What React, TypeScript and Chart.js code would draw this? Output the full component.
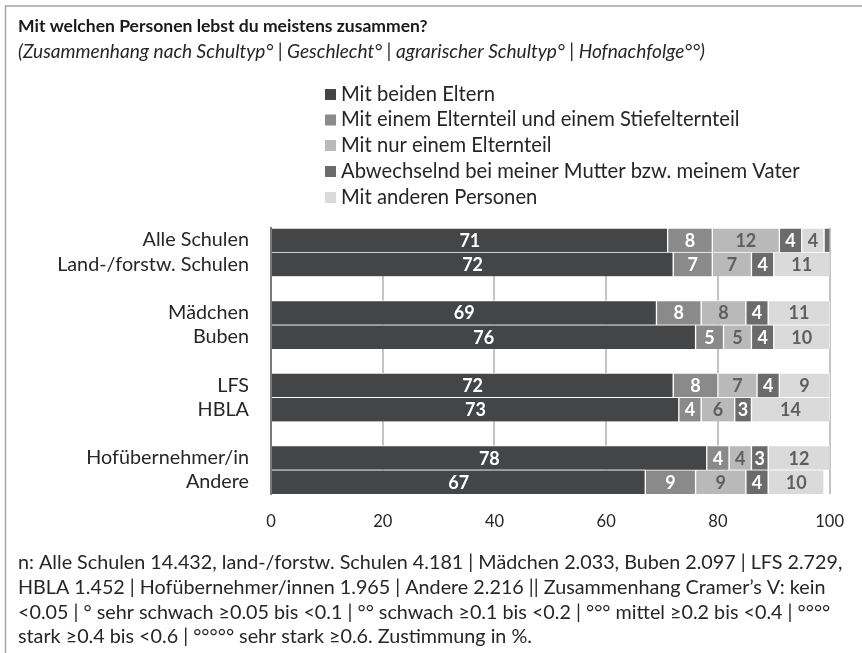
import React, { useEffect, useRef } from 'react';
import { Chart, registerables } from 'chart.js';

Chart.register(...registerables);

const FONT = 'Lato, "Noto Sans", sans-serif';

const categories = [
  'Alle Schulen',
  'Land-/forstw. Schulen',
  '',
  'Mädchen',
  'Buben',
  '',
  'LFS',
  'HBLA',
  '',
  'Hofübernehmer/in',
  'Andere',
];

const seriesNames = [
  'Mit beiden Eltern',
  'Mit einem Elternteil und einem Stiefelternteil',
  'Mit nur einem Elternteil',
  'Abwechselnd bei meiner Mutter bzw. meinem Vater',
  'Mit anderen Personen',
];

const mitBeidenEltern = [71, 72, null, 69, 76, null, 72, 73, null, 78, 67];
const mitStiefelternteil = [8, 7, null, 8, 5, null, 8, 4, null, 4, 9];
const mitNurEinemElternteil = [12, 7, null, 8, 5, null, 7, 6, null, 4, 9];
const abwechselnd = [4, 4, null, 4, 4, null, 4, 3, null, 3, 4];
const mitAnderenPersonen = [4, 11, null, 11, 10, null, 9, 14, null, 12, 10];
const restOhneLabel = [1, null, null, null, null, null, null, null, null, null, null];

const xTickValues = [0, 20, 40, 60, 80, 100];

const seriesColors = ['#444547', '#8a8a8a', '#b9b9b9', '#6b6b6b', '#dadada'];
const labelColors = ['#ffffff', '#ffffff', '#5f5f5f', '#ffffff', '#5f5f5f'];
const restColor = '#6b6b6b';

const titleText = 'Mit welchen Personen lebst du meistens zusammen?';
const subtitleText =
  '(Zusammenhang nach Schultyp° | Geschlecht° | agrarischer Schultyp° | Hofnachfolge°°)';
const footnoteLines = [
  'n: Alle Schulen 14.432, land-/forstw. Schulen 4.181 | Mädchen 2.033, Buben 2.097 | LFS 2.729,',
  'HBLA 1.452 | Hofübernehmer/innen 1.965 | Andere 2.216 || Zusammenhang Cramer’s V: kein',
  '<0.05 | ° sehr schwach ≥0.05 bis <0.1 | °° schwach ≥0.1 bis <0.2 | °°° mittel ≥0.2 bis <0.4 | °°°°',
  'stark ≥0.4 bis <0.6 | °°°°° sehr stark ≥0.6. Zustimmung in %.',
];

function fitSize(text: string, style: string, weight: string, target: number): number {
  const c = document.createElement('canvas').getContext('2d')!;
  c.font = `${style} ${weight} 100px ${FONT}`;
  const w = c.measureText(text).width;
  return (100 * target) / w;
}

export default function App() {
  const ref = useRef<HTMLCanvasElement | null>(null);

  useEffect(() => {
    const canvas = ref.current;
    if (!canvas) return;

    const TEXT_X = 18;
    const titleSize = fitSize(titleText, 'normal', 'bold', 410);
    const subSize = fitSize(subtitleText, 'italic', 'normal', 687);
    const legendSize = fitSize(seriesNames[3], 'normal', 'normal', 459);
    const ySize = fitSize('Land-/forstw. Schulen', 'normal', 'normal', 192);
    const footSize = fitSize(footnoteLines[0], 'normal', 'normal', 843 - TEXT_X);

    const decor = {
      id: 'decor',
      afterDraw(chart: any) {
        const ctx = chart.ctx as CanvasRenderingContext2D;
        ctx.save();
        // frame
        ctx.strokeStyle = '#a6a6a6';
        ctx.lineWidth = 1.5;
        ctx.beginPath();
        ctx.moveTo(5.5, 653);
        ctx.lineTo(5.5, 6);
        ctx.lineTo(862, 6);
        ctx.stroke();

        ctx.textAlign = 'left';
        ctx.textBaseline = 'middle';
        // title
        ctx.fillStyle = '#1a1a1a';
        ctx.font = `normal bold ${titleSize}px ${FONT}`;
        ctx.fillText(titleText, TEXT_X, 26);
        // subtitle
        ctx.fillStyle = '#262626';
        ctx.font = `italic normal ${subSize}px ${FONT}`;
        ctx.fillText(subtitleText, TEXT_X, 52);

        // legend
        ctx.font = `normal normal ${legendSize}px ${FONT}`;
        const rowY = [94, 119.5, 145, 171, 197];
        seriesNames.forEach((name, i) => {
          const y = rowY[i];
          ctx.fillStyle = seriesColors[i];
          ctx.fillRect(325, y - 5, 11, 11);
          ctx.fillStyle = '#262626';
          ctx.fillText(name, 341, y);
        });

        // footnote
        ctx.font = `normal normal ${footSize}px ${FONT}`;
        ctx.fillStyle = '#262626';
        const footY = [563, 588, 612.5, 637];
        footnoteLines.forEach((line, i) => ctx.fillText(line, TEXT_X, footY[i]));
        ctx.restore();
      },
    };

    const valueLabels = {
      id: 'valueLabels',
      afterDatasetsDraw(chart: any) {
        const ctx = chart.ctx as CanvasRenderingContext2D;
        const area = chart.chartArea;
        ctx.save();
        ctx.font = `bold 18px ${FONT}`;
        ctx.textAlign = 'center';
        ctx.textBaseline = 'middle';
        chart.data.datasets.forEach((ds: any, di: number) => {
          if (ds.noLabel) return;
          const meta = chart.getDatasetMeta(di);
          meta.data.forEach((el: any, i: number) => {
            const v = ds.data[i];
            if (v == null) return;
            const a = Math.min(el.base, el.x);
            const b = Math.min(Math.max(el.base, el.x), area.right);
            ctx.fillStyle = labelColors[di];
            ctx.fillText(String(v), (a + b) / 2, el.y + 1);
          });
        });
        ctx.restore();
      },
    };

    const seriesData = [
      mitBeidenEltern,
      mitStiefelternteil,
      mitNurEinemElternteil,
      abwechselnd,
      mitAnderenPersonen,
    ];

    const datasets: any[] = seriesData.map((d, i) => ({
      label: seriesNames[i],
      data: d,
      backgroundColor: seriesColors[i],
      borderColor: 'rgba(255,255,255,0.9)',
      borderWidth: { left: i === 0 ? 0 : 1, right: 1, top: 1, bottom: 0 },
      borderSkipped: false,
      clip: 0,
    }));
    datasets.push({
      label: '',
      data: restOhneLabel,
      backgroundColor: restColor,
      borderColor: 'rgba(255,255,255,0.9)',
      borderWidth: { left: 1, right: 0, top: 1, bottom: 0 },
      borderSkipped: false,
      clip: 0,
      noLabel: true,
    });

    const chart = new Chart(canvas, {
      type: 'bar',
      data: { labels: categories, datasets },
      plugins: [decor, valueLabels],
      options: {
        indexAxis: 'y',
        responsive: false,
        animation: false,
        devicePixelRatio: 1,
        layout: { padding: { top: 228, left: 0, right: 19, bottom: 119 } },
        datasets: { bar: { barPercentage: 1, categoryPercentage: 1 } },
        plugins: {
          legend: { display: false },
          title: { display: false },
          tooltip: { enabled: false },
        },
        scales: {
          x: {
            type: 'linear',
            stacked: true,
            min: 0,
            max: 100,
            afterBuildTicks: (scale: any) => {
              scale.ticks = xTickValues.map((v) => ({ value: v }));
            },
            afterFit: (scale: any) => {
              scale.height = 40;
            },
            grid: { color: '#c4c4c4', lineWidth: 2, drawTicks: false },
            border: { display: false },
            ticks: {
              padding: 18,
              color: '#262626',
              font: { family: FONT, size: 16.5 },
            },
          },
          y: {
            type: 'category',
            stacked: true,
            afterFit: (scale: any) => {
              scale.width = 271;
            },
            grid: { display: false, drawTicks: false },
            border: { display: true, color: '#7a7a7a', width: 2 },
            ticks: {
              padding: 22,
              color: '#262626',
              autoSkip: false,
              font: { family: FONT, size: ySize },
            },
          },
        },
      } as any,
    });

    return () => chart.destroy();
  }, []);

  return (
    <div
      style={{
        position: 'fixed',
        left: 0,
        top: 0,
        width: 862,
        height: 653,
        background: '#ffffff',
      }}
    >
      <canvas ref={ref} width={862} height={653} style={{ display: 'block' }} />
    </div>
  );
}
